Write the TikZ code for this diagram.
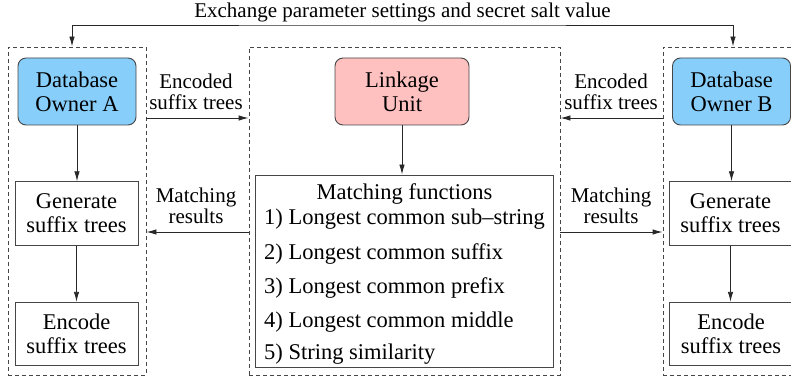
\documentclass[tikz,border=0pt]{standalone}
\usepackage{fontspec}
\setmainfont{Liberation Serif}
\usetikzlibrary{arrows.meta,calc}
\definecolor{dbblue}{RGB}{135,206,250}
\definecolor{lupink}{RGB}{255,192,192}
\definecolor{edgegray}{RGB}{70,70,70}
\definecolor{arrowgray}{RGB}{40,40,40}
\newcommand\diagboxfont{\fontsize{22.5}{24}\selectfont}
\newcommand\diaglblfont{\fontsize{21}{20.5}\selectfont}
\tikzset{
  box/.style={draw=edgegray, line width=0.9pt, align=center, inner sep=0pt, font=\diagboxfont},
  dbbox/.style={box, rounded corners=8pt, fill=dbblue, minimum width=118pt, minimum height=67pt},
  lubox/.style={box, rounded corners=8pt, fill=lupink, minimum width=134pt, minimum height=67pt},
  stepbox/.style={box, minimum width=123pt, minimum height=63.5pt},
  frame/.style={draw=edgegray, dash pattern=on 4pt off 3pt, line width=0.9pt, minimum height=328pt, inner sep=0pt},
  arr/.style={-{Latex[length=10pt,width=5.5pt]}, draw=arrowgray, line width=0.9pt},
  lbl/.style={align=center, font=\diaglblfont, inner sep=0pt},
  itemtxt/.style={font=\diagboxfont, inner sep=0pt}
}
\begin{document}
\begin{tikzpicture}[x=1pt,y=-1pt]
\useasboundingbox (0,0) rectangle (791,379);
% frames
\node[frame, minimum width=138pt] (fa) at (77,211) {};
\node[frame, minimum width=311pt] (fm) at (404.5,211) {};
\node[frame, minimum width=138pt] (fb) at (732,211) {};
% boxes
\node[dbbox] (dba) at (77,91.5) {Database\\Owner A};
\node[lubox] (lu) at (402,91.5) {Linkage\\Unit};
\node[dbbox] (dbb) at (731.5,91.5) {Database\\Owner B};
\node[stepbox] (gena) at (76.5,213.5) {Generate\\suffix trees};
\node[stepbox] (enca) at (76.5,334) {Encode\\suffix trees};
\node[stepbox] (genb) at (730.5,213.5) {Generate\\suffix trees};
\node[stepbox] (encb) at (731,334) {Encode\\suffix trees};
\node[box, minimum width=298pt, minimum height=192pt] (mf) at (404,271) {};
% matching function texts
\node[itemtxt, anchor=base] (mft) at (404.5,200) {Matching functions};
\node[itemtxt, anchor=base west] (mf1) at (264,225) {1) Longest common sub--string};
\node[itemtxt, anchor=base west] (mf2) at (264,259) {2) Longest common suffix};
\node[itemtxt, anchor=base west] (mf3) at (264,293) {3) Longest common prefix};
\node[itemtxt, anchor=base west] (mf4) at (264,327) {4) Longest common middle};
\node[itemtxt, anchor=base west] (mf5) at (264,359) {5) String similarity};
% vertical arrows
\draw[arr] (dba.south) -- (dba.south |- gena.north);
\draw[arr] (gena.south) -- (gena.south |- enca.north);
\draw[arr] (dbb.south) -- (dbb.south |- genb.north);
\draw[arr] (genb.south) -- (genb.south |- encb.north);
\draw[arr] (lu.south) -- (lu.south |- mf.north);
% top exchange arrow
\coordinate (topline) at (402,25);
\node[lbl, anchor=base] (title) at (402.5,18) {Exchange parameter settings and secret salt value};
\draw[arr, {Latex[length=10pt,width=5.5pt]}-{Latex[length=10pt,width=5.5pt]}] ([xshift=-5pt]fa.north) |- (topline) -| ([xshift=1pt]fb.north);
% horizontal arrows between frames
\coordinate (ey) at (0,118);
\coordinate (my) at (0,232);
\draw[arr] (fa.east |- ey) -- (fm.west |- ey);
\draw[arr] (fb.west |- ey) -- (fm.east |- ey);
\draw[arr] (fm.west |- my) -- (fa.east |- my);
\draw[arr] (fm.east |- my) -- (fb.west |- my);
% labels
\node[lbl] (la1) at (196,92) {Encoded\\suffix trees};
\node[lbl] (lb1) at (611,92) {Encoded\\suffix trees};
\node[lbl] (la2) at (196,206) {Matching\\results};
\node[lbl] (lb2) at (611,206) {Matching\\results};
\end{tikzpicture}
\end{document}
